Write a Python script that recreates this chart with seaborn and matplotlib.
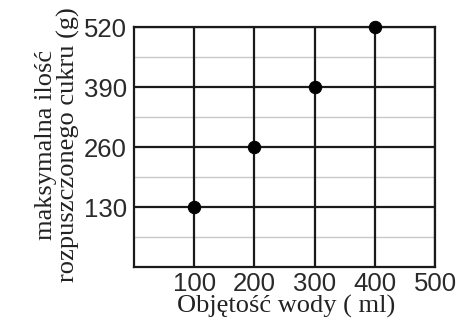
import matplotlib
matplotlib.use("Agg")
import matplotlib.pyplot as plt
import seaborn as sns
import pandas as pd

# Data
objetosc = [100, 200, 300, 400]
cukier = [130, 260, 390, 520]
x_ticks = [100, 200, 300, 400, 500]
y_ticks = [130, 260, 390, 520]
y_minor = [65, 195, 325, 455]

df = pd.DataFrame({"objetosc": objetosc, "cukier": cukier})

sns.set_style("white")
fig = plt.figure(figsize=(4.57, 3.19), dpi=100)
ax = fig.add_axes([0.293, 0.163, 0.659, 0.752])

# minor (light) grid
for y in y_minor:
    ax.axhline(y, color="#c8c8c8", lw=1.0, zorder=1)
# major grid
for x in x_ticks:
    ax.axvline(x, color="#1a1a1a", lw=1.6, zorder=2)
for y in y_ticks:
    ax.axhline(y, color="#1a1a1a", lw=1.6, zorder=2)

sns.scatterplot(data=df, x="objetosc", y="cukier", color="black", s=80,
                edgecolor="black", zorder=5, clip_on=False, ax=ax, legend=False)

ax.set_xlim(0, 500)
ax.set_ylim(0, 520)
ax.set_xticks(x_ticks)
ax.set_yticks(y_ticks)
ax.tick_params(length=0, labelsize=18.5, labelcolor="#2a2a2a")
ax.tick_params(axis="x", pad=3.5)
ax.tick_params(axis="y", pad=5)
for lab in ax.get_xticklabels() + ax.get_yticklabels():
    lab.set_family("Liberation Sans")

for s in ax.spines.values():
    s.set_color("#1a1a1a")
    s.set_linewidth(1.6)

ax.set_xlabel("Objętość wody ( ml)", family="Liberation Serif", fontsize=19,
              color="#222222")
ax.xaxis.set_label_coords(0.505, -0.117)
ax.set_ylabel("maksymalna ilość\nrozpuszczonego cukru (g)", family="Liberation Serif",
              fontsize=19, color="#222222", linespacing=0.95)
ax.yaxis.set_label_coords(-0.18, 0.51)

fig.savefig("out.png", dpi=100)
